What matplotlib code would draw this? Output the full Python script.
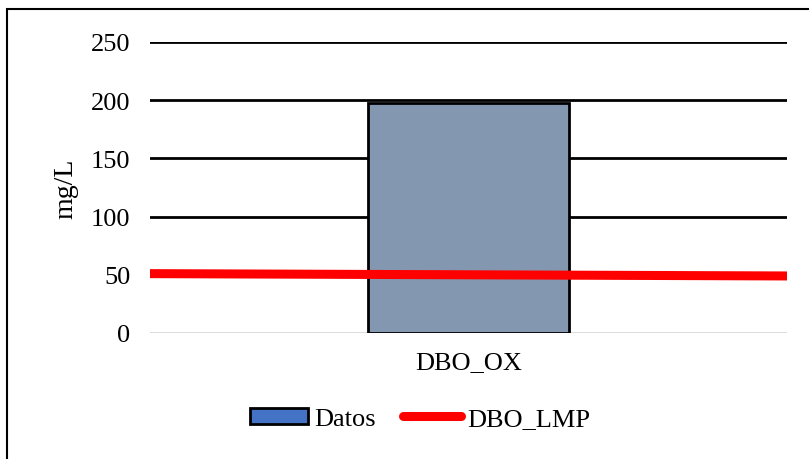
import matplotlib
matplotlib.use("Agg")
import matplotlib.pyplot as plt
from matplotlib.patches import Patch, Rectangle
from matplotlib.lines import Line2D

categories = ["DBO_OX"]
datos = [198]
lmp_x = [-0.5, 0.5]
lmp_values = [51, 49]
yticks = [0, 50, 100, 150, 200, 250]

plt.rcParams["font.family"] = ["Liberation Serif", "DejaVu Serif"]

fig = plt.figure(figsize=(8.09, 4.60), dpi=100)
ax = fig.add_axes([150 / 809, 1 - 334 / 460, 637 / 809, (334 - 43) / 460])

# horizontal grid
for y in yticks[1:]:
    ax.axhline(y, color="black", lw=2, zorder=0)
ax.axhline(0, color="#d9d9d9", lw=2, zorder=0)

ax.bar(range(len(categories)), datos, width=0.314, color="#8497b0",
       edgecolor="black", linewidth=2, zorder=2)
ax.plot(lmp_x, lmp_values, color="#ff0000", lw=6.5, solid_capstyle="butt", zorder=3)

ax.set_xlim(-0.5, 0.5)
ax.set_ylim(0, 250)
ax.set_yticks(yticks)
ax.set_xticks(range(len(categories)))
ax.set_xticklabels(categories)
ax.tick_params(axis="y", length=0, pad=14, labelsize=19)
ax.tick_params(axis="x", length=0, pad=13, labelsize=19)
for s in ax.spines.values():
    s.set_visible(False)
ax.set_ylabel("mg/L", fontsize=20, labelpad=9)

handles = [
    Patch(facecolor="#4472c4", edgecolor="black", linewidth=2, label="Datos"),
    Line2D([0], [0], color="#ff0000", lw=6.5, solid_capstyle="round", label="DBO_LMP"),
]
fig.legend(handles=handles, loc="center", bbox_to_anchor=(420 / 809, 1 - 420 / 460),
           ncol=2, frameon=False, fontsize=19, handlelength=2.2, handleheight=0.57,
           handletextpad=0.23, columnspacing=1.05)

# chart border
fig.patches.append(Rectangle((7 / 809, -0.05), 1.1, 1 - 10 / 460 + 0.05,
                             transform=fig.transFigure, fill=False,
                             edgecolor="black", linewidth=1.5))

fig.savefig("out.png", dpi=100)
